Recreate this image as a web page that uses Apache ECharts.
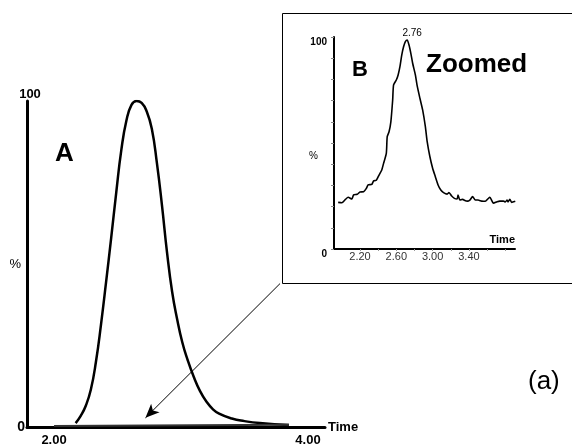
<!DOCTYPE html>
<html>
<head>
<meta charset="utf-8">
<script src="https://cdn.jsdelivr.net/npm/echarts@6/dist/echarts.min.js"></script>
<style>
html, body { margin: 0; padding: 0; background: #fff; }
#chart { width: 572px; height: 447px; }
</style>
</head>
<body>
<div id="chart"></div>
<script>
// chromatogram A (full run)
var mainTime = [2.17, 2.21, 2.25, 2.29, 2.33, 2.37, 2.41, 2.45, 2.49, 2.53, 2.57, 2.61, 2.65,
	2.69, 2.73, 2.77, 2.81, 2.85, 2.89, 2.93, 2.97, 3.01, 3.05, 3.10, 3.15, 3.20, 3.25, 3.30, 3.40, 3.50, 3.62, 3.85];
var mainValue = [1.2, 3.4, 6.5, 11.5, 20.0, 31.5, 44.5, 58.0, 72.0, 85.0, 94.0, 98.8, 100,
	99.4, 96.8, 91.5, 81.0, 68.0, 53.5, 41.5, 33.0, 26.0, 20.8, 15.4, 11.0, 7.8, 5.5, 4.1, 2.6, 1.8, 1.2, 0.6];
var baseTime = [2.00, 3.85];
var baseValue = [0.3, 0.7];

// chromatogram B (zoomed)
var zoomTime = [1.96, 2.00, 2.04, 2.07, 2.11, 2.13, 2.17, 2.20, 2.24, 2.27, 2.29, 2.33, 2.35, 2.38, 2.41,
	2.44, 2.46, 2.49, 2.50, 2.52, 2.54, 2.56, 2.57, 2.60, 2.62, 2.64, 2.66, 2.68, 2.70, 2.72, 2.74, 2.76,
	2.78, 2.81, 2.83, 2.86, 2.89, 2.92, 2.94, 2.97, 3.00, 3.03, 3.06, 3.09, 3.12, 3.16, 3.18, 3.21, 3.24,
	3.27, 3.28, 3.30, 3.33, 3.36, 3.38, 3.41, 3.44, 3.47, 3.50, 3.54, 3.58, 3.61, 3.63, 3.67, 3.71, 3.74,
	3.78, 3.80, 3.82, 3.83, 3.85, 3.87, 3.91];
var zoomValue = [22.0, 21.8, 23.4, 24.4, 23.6, 25.5, 25.8, 26.9, 27.0, 28.6, 30.2, 30.5, 32.1, 32.4, 34.9,
	37.3, 40.4, 45.1, 53.0, 55.3, 60.0, 70.3, 77.4, 79.7, 82.1, 86.0, 91.5, 95.4, 97.8, 98.6, 96.2, 92.3,
	87.6, 82.1, 76.9, 71.1, 65.6, 57.7, 50.6, 43.5, 38.1, 34.1, 30.2, 27.8, 26.6, 25.9, 26.6, 25.0, 23.9,
	23.6, 25.5, 23.1, 23.4, 22.8, 22.6, 23.1, 24.7, 23.1, 23.1, 22.6, 22.5, 23.7, 24.4, 21.6, 22.3, 22.6,
	22.6, 22.2, 23.1, 22.2, 23.4, 22.0, 22.5];
var peakLabel = '2.76';

// tick labels
var mainXTicks = [2, 4];
var mainYTicks = [0, 100];
var zoomXTicks = [2.2, 2.6, 3.0, 3.4];
var zoomXMinor = [2.2, 2.4, 2.6, 2.8, 3.0, 3.2, 3.4, 3.6, 3.8];
var zoomYTicks = [0, 100];

// arrow from the inset frame corner down to the baseline
var arrowFrom = [3.78, 44];
var arrowTo = [2.72, 2.8];

var font = 'Liberation Sans, Arial, Helvetica, sans-serif';

function pairs(xs, ys) {
	var out = [];
	for (var i = 0; i < xs.length; i++) out.push([xs[i], ys[i]]);
	return out;
}

var peakIdx = zoomValue.indexOf(Math.max.apply(null, zoomValue));

var myChart = echarts.init(document.getElementById('chart'));

var option = {
	backgroundColor: '#fff',
	animation: false,
	title: [
		{ text: 'A', left: 50, top: 136, textStyle: { fontSize: 26, fontWeight: 'bold', color: '#000', fontFamily: font } },
		{ text: 'B', left: 347, top: 54, textStyle: { fontSize: 22, fontWeight: 'bold', color: '#000', fontFamily: font } },
		{ text: 'Zoomed', left: 421, top: 47, textStyle: { fontSize: 26, fontWeight: 'bold', color: '#000', fontFamily: font } },
		{ text: '(a)', left: 523, top: 364, textStyle: { fontSize: 26, fontWeight: 'normal', color: '#000', fontFamily: font } }
	],
	graphic: [{
		type: 'rect',
		shape: { x: 282.5, y: 13.5, width: 295, height: 270 },
		style: { fill: 'none', stroke: '#000', lineWidth: 1 },
		silent: true
	}],
	grid: [
		{ left: 27, top: 101, width: 298, height: 327 },
		{ left: 334, top: 37, width: 181, height: 212 }
	],
	xAxis: [{
		gridIndex: 0,
		type: 'value',
		min: 1.787,
		max: 4.134,
		name: 'Time',
		nameLocation: 'end',
		nameGap: 3,
		nameTextStyle: { fontSize: 13, fontWeight: 'bold', color: '#000', fontFamily: font },
		axisLine: { lineStyle: { color: '#000', width: 3 } },
		axisTick: { show: false },
		splitLine: { show: false },
		axisLabel: {
			customValues: mainXTicks,
			formatter: function(v) { return v.toFixed(2); },
			margin: 7,
			fontSize: 13,
			fontWeight: 'bold',
			color: '#000',
			fontFamily: font
		}
	}, {
		gridIndex: 1,
		type: 'value',
		min: 1.914,
		max: 3.907,
		name: 'Time',
		nameLocation: 'end',
		nameGap: 0,
		nameTextStyle: { fontSize: 11, fontWeight: 'bold', color: '#000', fontFamily: font,
			align: 'right', verticalAlign: 'bottom', padding: [0, 0, 4, 0] },
		axisLine: { lineStyle: { color: '#000', width: 2 } },
		axisTick: { customValues: zoomXMinor, length: 2, lineStyle: { color: '#999' } },
		splitLine: { show: false },
		axisLabel: {
			customValues: zoomXTicks,
			formatter: function(v) { return v.toFixed(2); },
			margin: 2,
			fontSize: 11,
			color: '#333',
			fontFamily: font
		}
	}],
	yAxis: [{
		gridIndex: 0,
		type: 'value',
		min: 0,
		max: 100,
		name: '%',
		nameLocation: 'middle',
		nameRotate: 0,
		nameGap: 6,
		nameMoveOverlap: false,
		nameTextStyle: { fontSize: 13, color: '#000', fontFamily: font },
		axisLine: { show: true, lineStyle: { color: '#000', width: 3 } },
		axisTick: { show: false },
		splitLine: { show: false },
		axisLabel: {
			customValues: [mainYTicks[0]],
			margin: 2,
			fontSize: 14,
			fontWeight: 'bold',
			color: '#000',
			fontFamily: font
		}
	}, {
		gridIndex: 0,
		type: 'value',
		min: 0,
		max: 100,
		position: 'left',
		axisLine: { show: false },
		axisTick: { show: false },
		splitLine: { show: false },
		axisLabel: {
			customValues: [mainYTicks[1]],
			align: 'center',
			verticalAlign: 'bottom',
			margin: -3,
			fontSize: 13,
			fontWeight: 'bold',
			color: '#000',
			fontFamily: font
		}
	}, {
		gridIndex: 1,
		type: 'value',
		min: 0,
		max: 100,
		interval: 10,
		name: '%',
		nameLocation: 'middle',
		nameRotate: 0,
		nameGap: 16,
		nameMoveOverlap: false,
		nameTextStyle: { fontSize: 10, color: '#000', fontFamily: font, verticalAlign: 'top', padding: [8, 0, 0, 0] },
		axisLine: { show: true, lineStyle: { color: '#000', width: 2 } },
		axisTick: { show: true, length: 3, lineStyle: { color: '#888' } },
		splitLine: { show: false },
		axisLabel: {
			customValues: zoomYTicks,
			verticalAlign: 'top',
			margin: 7,
			fontSize: 10,
			fontWeight: 'bold',
			color: '#000',
			fontFamily: font
		}
	}],
	series: [{
		name: 'A',
		type: 'line',
		xAxisIndex: 0,
		yAxisIndex: 0,
		smooth: true,
		showSymbol: false,
		lineStyle: { color: '#000', width: 2.5 },
		data: pairs(mainTime, mainValue),
		markLine: {
			silent: true,
			symbol: ['none', 'arrow'],
			symbolSize: [9, 14],
			label: { show: false },
			lineStyle: { color: '#000', width: 1, type: 'solid' },
			data: [[{ coord: arrowFrom }, { coord: arrowTo }]]
		}
	}, {
		name: 'baseline',
		type: 'line',
		xAxisIndex: 0,
		yAxisIndex: 0,
		showSymbol: false,
		lineStyle: { color: '#333', width: 2 },
		data: pairs(baseTime, baseValue)
	}, {
		name: 'B',
		type: 'line',
		xAxisIndex: 1,
		yAxisIndex: 2,
		smooth: 0.2,
		showSymbol: false,
		lineStyle: { color: '#000', width: 1.6 },
		data: pairs(zoomTime, zoomValue),
		markPoint: {
			silent: true,
			symbol: 'circle',
			symbolSize: 0,
			label: {
				show: true,
				position: 'top',
				offset: [5, 3],
				formatter: peakLabel,
				fontSize: 10,
				color: '#000',
				fontFamily: font
			},
			data: [{ coord: [zoomTime[peakIdx], zoomValue[peakIdx]] }]
		}
	}]
};

myChart.setOption(option);
window.addEventListener('resize', function() {
	myChart.resize();
});
</script>
</body>
</html>
